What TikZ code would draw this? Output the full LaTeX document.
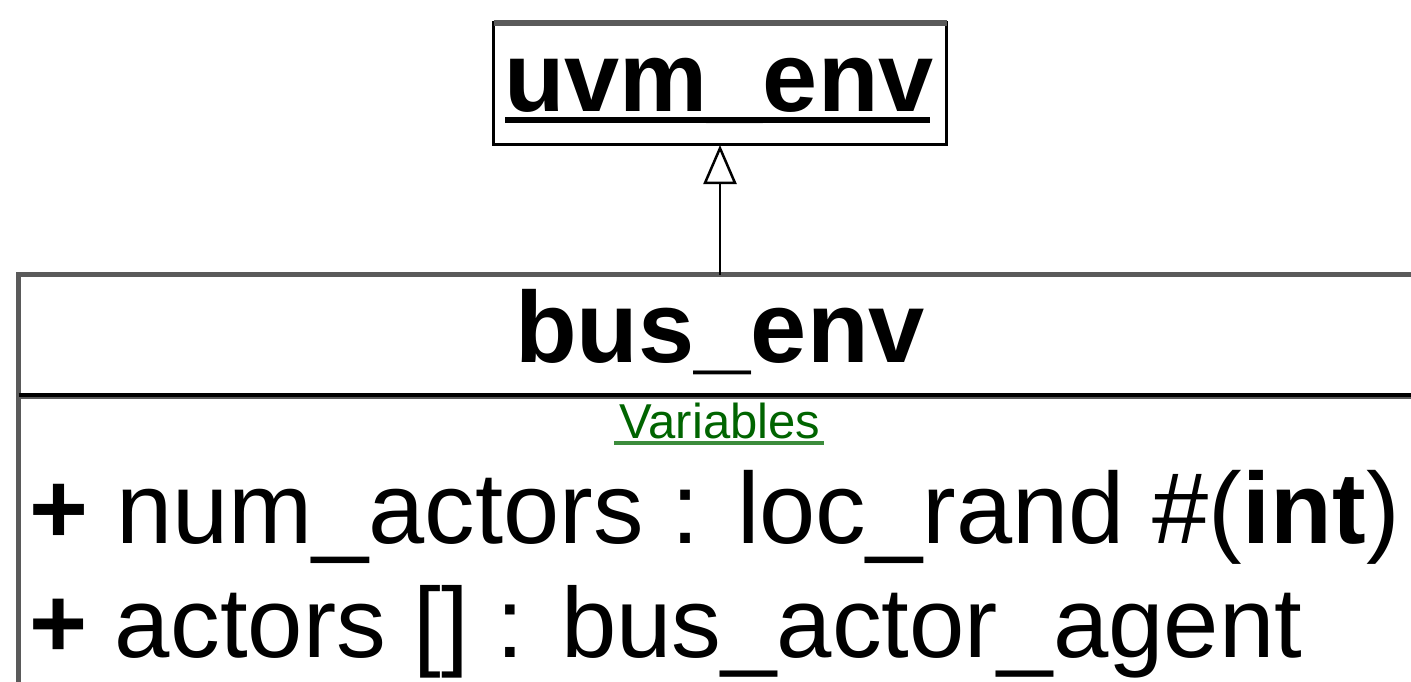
\documentclass[tikz,border=0pt]{standalone}
\usepackage{fontspec}
\setmainfont{Liberation Sans}
\usetikzlibrary{arrows.meta}
\definecolor{edgegray}{RGB}{90,90,90}
\definecolor{vargreen}{RGB}{0,100,0}
\definecolor{ulgreen}{RGB}{60,140,60}
\tikzset{
  classbox/.style={draw=black, line width=3pt, fill=white, inner sep=0pt, outer sep=0pt},
  clsname/.style={inner sep=0pt, anchor=base, font=\bfseries\fontsize{99pt}{110pt}\selectfont},
  clstitle/.style={inner sep=0pt, anchor=base, font=\bfseries\fontsize{101pt}{110pt}\selectfont},
  member/.style={inner sep=0pt, anchor=base west, font=\fontsize{101pt}{110pt}\selectfont},
  section/.style={inner sep=0pt, anchor=base, text=vargreen, font=\fontsize{49pt}{55pt}\selectfont},
  inherit/.style={line width=2.5pt, -{Triangle[open, length=39pt, width=33pt, line width=2.5pt]}}
}
\begin{document}
\begin{tikzpicture}[x=1pt, y=-1pt]
  \useasboundingbox (0,0) rectangle (1411,682);
  \clip (0,0) rectangle (1411,682);
  \fill[white] (0,0) rectangle (1411,682);

  % parent class
  \node[classbox, minimum width=453pt, minimum height=122pt] (uvm) at (720,84) {};
  \draw[edgegray, line width=6pt] (uvm.north west) -- (uvm.north east);
  \node[clsname] (uvmname) at (719,112) {uvm\_env};
  \draw[line width=6pt] ([xshift=1pt, yshift=-8pt]uvmname.base west) -- ([xshift=-4pt, yshift=-8pt]uvmname.base east);

  % derived class (runs past the page edges)
  \node[draw=edgegray, line width=5pt, fill=white, inner sep=0pt, outer sep=0pt,
        minimum width=1600pt, minimum height=600pt, anchor=north west] (bus) at (18.5,274.5) {};
  \node[clstitle] (busname) at (720,362) {bus\_env};
  \draw[black, line width=4pt] (18.5,395) -- (1411,395);
  \draw[edgegray, line width=2pt] (18.5,398) -- (1411,398);

  \node[section] (vars) at (720,438) {Variables};
  \draw[ulgreen, line width=3.5pt] ([xshift=-5pt, yshift=-5pt]vars.base west) -- ([xshift=3pt, yshift=-5pt]vars.base east);

  \node[member] (m1) at (29,543) {\textbf{+} num\_actors : loc\_rand \#(\textbf{int})};
  \node[member, font=\fontsize{99.5pt}{110pt}\selectfont] (m2) at (29,657) {\textbf{+} actors [] : bus\_actor\_agent};

  % generalization
  \coordinate (busTop) at (uvm.south |- bus.north);
  \draw[inherit] (busTop) -- (uvm.south);
\end{tikzpicture}
\end{document}
